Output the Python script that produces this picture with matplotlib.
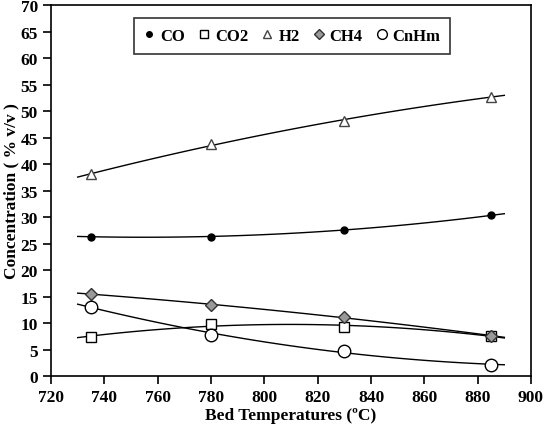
import numpy as np
import matplotlib.pyplot as plt

plt.rcParams['font.family'] = ['Liberation Serif', 'DejaVu Serif']
plt.rcParams['font.weight'] = 'bold'

# bed temperatures (C)
temps = [735, 780, 830, 885]

# gas concentrations (% v/v)
co = [26.3, 26.3, 27.6, 30.3]
co2 = [7.4, 9.8, 9.2, 7.6]
h2 = [38.1, 43.7, 48.2, 52.7]
ch4 = [15.5, 13.4, 11.1, 7.6]
cnhm = [13.1, 7.7, 4.8, 2.1]

fig = plt.figure(figsize=(5.51, 4.35), dpi=100)
ax = fig.add_axes([0.0926, 0.1333, 0.8711, 0.8527])

series = [
    ('CO', co, dict(marker='o', ms=5, mfc='black', mec='black')),
    ('CO2', co2, dict(marker='s', ms=7, mfc='white', mec='black')),
    ('H2', h2, dict(marker='^', ms=7, mfc='white', mec='#444444')),
    ('CH4', ch4, dict(marker='D', ms=6.5, mfc='#999999', mec='#333333')),
    ('CnHm', cnhm, dict(marker='o', ms=9, mfc='white', mec='black')),
]
legend_ms = [4, 6, 5.5, 5.5, 7]

xs = np.linspace(730, 890, 100)
for name, vals, style in series:
    # trend line (2nd order fit)
    p = np.polyfit(temps, vals, 2)
    ax.plot(xs, np.polyval(p, xs), color='black', lw=1.0, zorder=2)
    ax.plot(temps, vals, ls='none', mew=1.0, label=name, zorder=3, **style)

ax.set_xlim(720, 900)
ax.set_ylim(0, 70)
ax.set_xticks(range(720, 901, 20))
ax.set_yticks(range(0, 71, 5))
ax.tick_params(direction='out', length=6, width=1.2, labelsize=12.5, top=False, right=False)
for lab in ax.get_xticklabels() + ax.get_yticklabels():
    lab.set_fontweight('bold')
for s in ax.spines.values():
    s.set_linewidth(1.2)

ax.set_xlabel('Bed Temperatures (ºC)', fontsize=12.5, fontweight='bold', labelpad=1)
ax.set_ylabel('Concentration ( % v/v )', fontsize=12.5, fontweight='bold', labelpad=1)

leg = ax.legend(loc='upper center', bbox_to_anchor=(0.502, 0.965), ncol=5, frameon=True,
                fancybox=False, edgecolor='black', handlelength=0.7, handletextpad=0.3,
                columnspacing=0.8, borderpad=0.6, borderaxespad=0,
                prop={'weight': 'bold', 'size': 12})
leg.get_frame().set_linewidth(1.2)
for h, ms in zip(leg.legend_handles, legend_ms):
    h.set_markersize(ms)

fig.savefig('out.png', dpi=100)
